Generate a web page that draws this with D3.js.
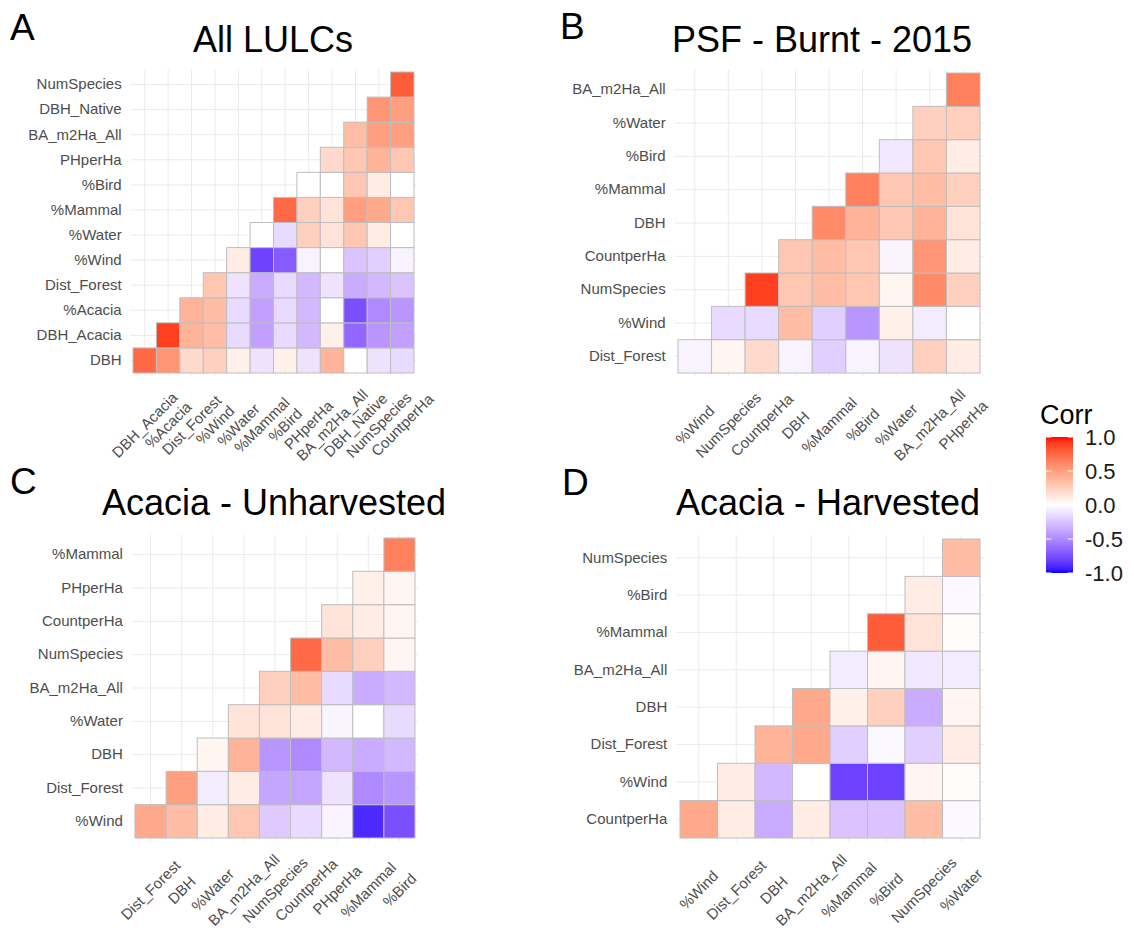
<!DOCTYPE html>
<html><head><meta charset="utf-8">
<script src="https://cdn.jsdelivr.net/npm/d3@7"></script>
<style>body{margin:0;background:#fff} svg text{font-family:"Liberation Sans",Arial,sans-serif}</style>
</head><body><svg id="chart" width="1134" height="930"></svg>
<script>
// ---------- DATA ----------
const titles = ["All LULCs", "PSF - Burnt - 2015", "Acacia - Unharvested", "Acacia - Harvested"];
const panelLetters = ["A", "B", "C", "D"];

// Panel A: columns (left to right), rows (bottom to top), values per row starting at column = row index
const colsA = ["DBH_Acacia","%Acacia","Dist_Forest","%Wind","%Water","%Mammal","%Bird","PHperHa","BA_m2Ha_All","DBH_Native","NumSpecies","CountperHa"];
const rowsA = ["DBH","DBH_Acacia","%Acacia","Dist_Forest","%Wind","%Water","%Mammal","%Bird","PHperHa","BA_m2Ha_All","DBH_Native","NumSpecies"];
const valuesA = [
  [0.75, 0.55, 0.2, 0.25, 0.08, -0.12, 0.08, -0.12, 0.4, 0.0, -0.12, -0.15],
  [0.9, 0.4, 0.35, -0.15, -0.4, -0.15, -0.3, 0.08, -0.65, -0.45, -0.4],
  [0.4, 0.35, -0.15, -0.4, -0.15, -0.3, 0.0, -0.75, -0.5, -0.45],
  [0.3, -0.12, -0.35, -0.15, -0.3, -0.12, -0.35, -0.3, -0.25],
  [0.1, -0.8, -0.7, -0.05, 0.0, -0.25, -0.2, -0.05],
  [0.0, -0.15, 0.25, 0.15, 0.3, 0.1, 0.0],
  [0.75, 0.25, 0.15, 0.5, 0.45, 0.3],
  [0.0, 0.0, 0.3, 0.1, 0.0],
  [0.2, 0.3, 0.4, 0.3],
  [0.35, 0.5, 0.5],
  [0.55, 0.5],
  [0.8]
];

const colsB = ["%Wind","NumSpecies","CountperHa","DBH","%Mammal","%Bird","%Water","BA_m2Ha_All","PHperHa"];
const rowsB = ["Dist_Forest","%Wind","NumSpecies","CountperHa","DBH","%Mammal","%Bird","%Water","BA_m2Ha_All"];
const valuesB = [
  [-0.05, 0.05, 0.2, -0.05, -0.2, -0.05, -0.12, 0.25, 0.1],
  [-0.15, -0.15, 0.35, -0.2, -0.45, 0.08, -0.08, 0.0],
  [0.9, 0.3, 0.35, 0.3, 0.05, 0.6, 0.25],
  [0.3, 0.35, 0.3, -0.04, 0.55, 0.1],
  [0.6, 0.4, 0.3, 0.4, 0.15],
  [0.65, 0.3, 0.35, 0.25],
  [-0.1, 0.3, 0.1],
  [0.25, 0.25],
  [0.65]
];

const colsC = ["Dist_Forest","DBH","%Water","BA_m2Ha_All","NumSpecies","CountperHa","PHperHa","%Mammal","%Bird"];
const rowsC = ["%Wind","Dist_Forest","DBH","%Water","BA_m2Ha_All","NumSpecies","CountperHa","PHperHa","%Mammal"];
const valuesC = [
  [0.45, 0.35, 0.1, 0.3, -0.22, -0.15, -0.05, -0.9, -0.75],
  [0.5, -0.08, 0.1, -0.38, -0.38, -0.12, -0.5, -0.45],
  [0.05, 0.4, -0.45, -0.5, -0.3, -0.35, -0.3],
  [0.15, 0.15, 0.1, -0.04, 0.0, -0.15],
  [0.25, 0.35, -0.15, -0.35, -0.3],
  [0.75, 0.35, 0.25, 0.05],
  [0.15, 0.1, 0.05],
  [0.08, 0.05],
  [0.65]
];

const colsD = ["%Wind","Dist_Forest","DBH","BA_m2Ha_All","%Mammal","%Bird","NumSpecies","%Water"];
const rowsD = ["CountperHa","%Wind","Dist_Forest","DBH","BA_m2Ha_All","%Mammal","%Bird","NumSpecies"];
const valuesD = [
  [0.45, 0.1, -0.35, 0.1, -0.25, -0.25, 0.35, -0.03],
  [0.1, -0.3, 0.0, -0.8, -0.8, 0.05, 0.02],
  [0.4, 0.45, -0.2, -0.03, -0.2, 0.1],
  [0.45, 0.08, 0.25, -0.35, 0.05],
  [-0.08, 0.05, -0.1, -0.08],
  [0.8, 0.15, 0.02],
  [0.1, -0.03],
  [0.35]
];

const legendTitle = "Corr";
const legendTicks = [-1, -0.5, 0, 0.5, 1];

// ---------- LAYOUT ----------
const layout = [
  {x0:133, x1:414, y0:72,  y1:373, tx:273, ty:52,  lx:10,  ly:40},
  {x0:678, x1:980, y0:73,  y1:373, tx:822, ty:52,  lx:560, ly:39},
  {x0:135, x1:415, y0:538, y1:838, tx:274, ty:515, lx:10,  ly:494},
  {x0:680, x1:980, y0:539, y1:838, tx:828, ty:515, lx:562, ly:495}
];
const panels = [
  {cols:colsA, rows:rowsA, values:valuesA},
  {cols:colsB, rows:rowsB, values:valuesB},
  {cols:colsC, rows:rowsC, values:valuesC},
  {cols:colsD, rows:rowsD, values:valuesD}
];

const svg = d3.select("#chart");
svg.append("rect").attr("width",1134).attr("height",930).attr("fill","#fff");

const color = d3.scaleLinear().domain([-1,0,1]).range(["blue","white","red"]).interpolate(d3.interpolateLab).clamp(true);

panels.forEach((p, i) => {
  const L = layout[i];
  const g = svg.append("g");
  const x = d3.scaleBand().domain(p.cols).range([L.x0, L.x1]);
  const y = d3.scaleBand().domain(p.rows).range([L.y1, L.y0]);
  const cw = x.bandwidth(), ch = y.bandwidth();

  // grid
  g.append("g").selectAll("line").data(p.cols).join("line")
    .attr("x1", d => x(d) + cw/2).attr("x2", d => x(d) + cw/2)
    .attr("y1", L.y0 - 0.1*ch).attr("y2", L.y1 + 0.1*ch)
    .attr("stroke", "#ebebeb").attr("stroke-width", 1);
  g.append("g").selectAll("line").data(p.rows).join("line")
    .attr("y1", d => y(d) + ch/2).attr("y2", d => y(d) + ch/2)
    .attr("x1", L.x0 - 0.1*cw).attr("x2", L.x1 + 0.1*cw)
    .attr("stroke", "#ebebeb").attr("stroke-width", 1);

  // cells
  const cells = [];
  p.values.forEach((row, r) => row.forEach((v, k) => cells.push({row: p.rows[r], col: p.cols[r + k], v})));
  g.append("g").selectAll("rect").data(cells).join("rect")
    .attr("x", d => x(d.col)).attr("y", d => y(d.row))
    .attr("width", cw).attr("height", ch)
    .attr("fill", d => color(d.v))
    .attr("stroke", "#bebebe").attr("stroke-width", 1);

  // y axis
  const ya = g.append("g").attr("transform", `translate(${L.x0 - 0.1*cw},0)`)
    .call(d3.axisLeft(y).tickSize(0).tickPadding(9));
  ya.select(".domain").remove();
  ya.attr("font-family", null).attr("font-size", null);
  ya.selectAll("text").attr("font-size", 15).attr("fill", "#4d4d4d");

  // x axis
  const xa = g.append("g").attr("transform", `translate(0,${L.y1})`)
    .call(d3.axisBottom(x).tickSize(0));
  xa.select(".domain").remove();
  xa.attr("font-family", null).attr("font-size", null);
  xa.selectAll("text")
    .attr("y", 0).attr("dy", "0.35em")
    .attr("text-anchor", "middle")
    .attr("transform", "translate(0,52) rotate(-45)")
    .attr("font-size", 15).attr("fill", "#4d4d4d");

  // title & letter
  g.append("text").attr("x", L.tx).attr("y", L.ty).attr("text-anchor", "middle")
    .attr("font-size", 36).attr("fill", "#000").text(titles[i]);
  g.append("text").attr("x", L.lx).attr("y", L.ly)
    .attr("font-size", 37).attr("fill", "#000").text(panelLetters[i]);
});

// ---------- LEGEND ----------
const leg = svg.append("g");
const ly = d3.scaleLinear().domain([-1, 1]).range([573, 437]);
const barX = 1046, barW = 27;
const grad = svg.append("defs").append("linearGradient").attr("id", "corrGrad")
  .attr("x1", 0).attr("y1", 1).attr("x2", 0).attr("y2", 0);
d3.range(0, 41).forEach(t => {
  grad.append("stop").attr("offset", t/40).attr("stop-color", color(-1 + 2*t/40));
});
leg.append("rect").attr("x", barX).attr("y", ly(1)).attr("width", barW).attr("height", ly(-1) - ly(1))
  .attr("fill", "url(#corrGrad)");
leg.selectAll("line.tl").data(legendTicks).join("line")
  .attr("x1", barX).attr("x2", barX + barW/5).attr("y1", d => ly(d)).attr("y2", d => ly(d))
  .attr("stroke", "#fff").attr("stroke-width", 1);
leg.selectAll("line.tr").data(legendTicks).join("line")
  .attr("x1", barX + barW - barW/5).attr("x2", barX + barW).attr("y1", d => ly(d)).attr("y2", d => ly(d))
  .attr("stroke", "#fff").attr("stroke-width", 1);
const la = leg.append("g").attr("transform", `translate(${barX + barW},0)`)
  .call(d3.axisRight(ly).tickValues(legendTicks).tickSize(0).tickPadding(12).tickFormat(d => d.toFixed(1)));
la.select(".domain").remove();
la.attr("font-family", null).attr("font-size", null);
la.selectAll("text").attr("font-size", 22).attr("fill", "#1a1a1a");
leg.append("text").attr("x", 1040).attr("y", 424).attr("font-size", 27).attr("fill", "#000").text(legendTitle);
</script>
</body></html>
